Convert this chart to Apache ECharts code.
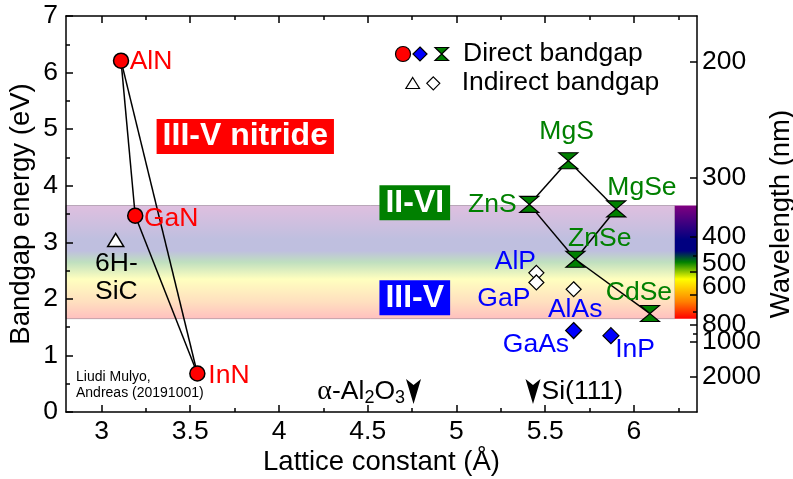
<!DOCTYPE html>
<html><head><meta charset="utf-8">
<script src="https://cdn.jsdelivr.net/npm/echarts@6/dist/echarts.min.js"></script>
<style>html,body{margin:0;padding:0;background:#fff}#c{width:793px;height:479px}</style>
</head><body><div id="c"></div>
<script>
// ---------------- data ----------------
const nitrideNames = ['AlN', 'GaN', 'InN'];
const nitrideLattice = [3.11, 3.19, 3.54];
const nitrideGap = [6.21, 3.47, 0.68];

const iiviNames = ['MgS', 'ZnS', 'MgSe', 'ZnSe', 'CdSe'];
const iiviLattice = [5.63, 5.41, 5.90, 5.67, 6.09];
const iiviGap = [4.44, 3.67, 3.59, 2.70, 1.74];

const iiivDirectNames = ['GaAs', 'InP'];
const iiivDirectLattice = [5.66, 5.87];
const iiivDirectGap = [1.44, 1.35];

const iiivIndirectNames = ['AlP', 'GaP', 'AlAs'];
const iiivIndirectLattice = [5.45, 5.45, 5.66];
const iiivIndirectGap = [2.46, 2.29, 2.17];

const sicNames = ['6H-\nSiC'];
const sicLattice = [3.08];
const sicGap = [3.04];

const tieLines = [['AlN','GaN'],['GaN','InN'],['InN','AlN'],
                  ['ZnS','MgS'],['MgS','MgSe'],['MgSe','ZnSe'],['ZnSe','ZnS'],['ZnSe','CdSe']];

const substrateNames = ['alumina', 'Si(111)'];
const substrateLattice = [4.758, 5.431];

const groupNames = ['III-V nitride', 'II-VI', 'III-V'];
const groupLattice = [3.81, 4.765, 4.765];
const groupGap = [4.87, 3.70, 2.02];

const xTicks = [3, 3.5, 4, 4.5, 5, 5.5, 6];
const xMinorTicks = [3.25, 3.75, 4.25, 4.75, 5.25, 5.75, 6.25];
const wavelengthTicks = [200, 300, 400, 500, 600, 800, 1000, 2000];
const wavelengthMinorTicks = [450, 700, 900];
const visibleBandEnergy = [1.65, 3.65];
const bandSegments = [[2.8, 6.23, 'pastel'], [6.23, 6.355, 'full']];

// ---------------- styles ----------------
const FONT = '"Liberation Sans", Arial, sans-serif';
const X_MIN = 2.8, X_MAX = 6.355, Y_MIN = 0, Y_MAX = 7;
const HC = 1240;
const labelOffset = {
  AlN:[30,1], GaN:[36,2.6], InN:[31.6,1.7], '6H-\nSiC':[0.7,37.5],
  MgS:[-1.7,-29], ZnS:[-37,0], MgSe:[25.7,-21.7], ZnSe:[24.3,-20.7], CdSe:[-11,-20.6],
  AlP:[-21,-11], GaP:[-32.5,16.6], AlAs:[1.5,20], GaAs:[-37.7,14.3], InP:[24.2,13.6]
};
const groupColors = {'III-V nitride':'#ff0000', 'II-VI':'#008000', 'III-V':'#0000ff'};
const wavelengthLabelUp = [500, 600];
const ARROW_TIP_E = 0.14;

const spectrumStops = (a) => [
  {offset:0, color:`rgba(128,0,128,${a})`},
  {offset:0.3, color:`rgba(0,0,128,${a})`},
  {offset:0.4, color:`rgba(0,0,128,${a})`},
  {offset:0.5, color:`rgba(0,128,0,${a})`},
  {offset:0.65, color:`rgba(255,255,0,${a})`},
  {offset:0.85, color:`rgba(255,128,0,${a})`},
  {offset:1, color:`rgba(255,0,0,${a})`}
];

function pts(names, xs, ys) { return names.map((n, i) => ({name:n, value:[xs[i], ys[i]]})); }
function labeled(arr, color) {
  return arr.map(d => ({...d, label:{show:true, formatter:'{b}', position:'inside', offset:labelOffset[d.name],
    color, fontSize:26.5, fontFamily:FONT, lineHeight:28, align:'center', verticalAlign:'middle'}}));
}

const nitrides = pts(nitrideNames, nitrideLattice, nitrideGap);
const iivi = pts(iiviNames, iiviLattice, iiviGap);
const iiivD = pts(iiivDirectNames, iiivDirectLattice, iiivDirectGap);
const iiivI = pts(iiivIndirectNames, iiivIndirectLattice, iiivIndirectGap);
const sic = pts(sicNames, sicLattice, sicGap);
const pos = {};
[...nitrides, ...iivi].forEach(d => pos[d.name] = d.value);

const HOURGLASS = 'path://M0,0L20,0L10,8L20,16L0,16L10,8Z';
const ARROW = 'path://M0,0L7.5,6L15,0L7.5,25Z';

const axisLineStyle = {color:'#000', width:1.5};
const tickStyle = {color:'#000', width:1.5};

function xAx(position, ticks, len, main) {
  return {type:'value', min:X_MIN, max:X_MAX, position, z:10,
    axisLine:{show:main, onZero:false, lineStyle:axisLineStyle},
    axisTick:{show:true, inside:true, length:len, customValues:ticks, lineStyle:tickStyle},
    axisLabel:{show:main && position==='bottom', customValues:ticks, color:'#000', fontSize:26.5, fontFamily:FONT, margin:6},
    splitLine:{show:false},
    name: (main && position==='bottom') ? 'Lattice constant (Å)' : '',
    nameLocation:'middle', nameGap:36, nameMoveOverlap:false,
    nameTextStyle:{color:'#000', fontSize:27.5, fontFamily:FONT}};
}

const option = {
  animation:false,
  backgroundColor:'#fff',
  grid:{left:66, right:96, top:16, bottom:67, containLabel:false, outerBoundsMode:'none'},
  xAxis:[
    xAx('bottom', xTicks, 7, true),
    xAx('bottom', xMinorTicks, 4, false),
    xAx('top', xTicks, 7, true),
    xAx('top', xMinorTicks, 4, false)
  ],
  yAxis:[
    {type:'value', min:Y_MIN, max:Y_MAX, interval:1, position:'left', z:10,
     axisLine:{show:true, onZero:false, lineStyle:axisLineStyle},
     axisTick:{show:true, inside:true, length:7, lineStyle:tickStyle},
     minorTick:{show:true, splitNumber:2, length:4, lineStyle:tickStyle},
     axisLabel:{color:'#000', fontSize:26.5, fontFamily:FONT, margin:8},
     splitLine:{show:false},
     name:'Bandgap energy (eV)', nameLocation:'middle', nameGap:31, nameRotate:90, nameMoveOverlap:false,
     nameTextStyle:{color:'#000', fontSize:27.5, fontFamily:FONT}},
    {type:'value', min:Y_MIN, max:Y_MAX, position:'right', z:10,
     axisLine:{show:true, onZero:false, lineStyle:axisLineStyle},
     axisTick:{show:true, inside:true, length:7, customValues:wavelengthTicks.map(l => HC / l), lineStyle:tickStyle},
     axisLabel:{customValues:wavelengthTicks.map(l => HC / l), color:'#000', fontSize:26.5, fontFamily:FONT, margin:5,
       formatter: v => { const nm = Math.round(HC / v); return wavelengthLabelUp.includes(nm) ? '{up|' + nm + '}' : '{n|' + nm + '}'; },
       rich:{n:{fontSize:26.5, fontFamily:FONT, color:'#000'}, up:{fontSize:26.5, fontFamily:FONT, color:'#000', padding:[0,0,16,0]}}},
     splitLine:{show:false},
     name:'Wavelength (nm)', nameLocation:'middle', nameGap:70, nameRotate:90, nameMoveOverlap:false,
     nameTextStyle:{color:'#000', fontSize:27.5, fontFamily:FONT}},
    {type:'value', min:Y_MIN, max:Y_MAX, position:'right', z:10,
     axisLine:{show:false},
     axisTick:{show:true, inside:true, length:4, customValues:wavelengthMinorTicks.map(l => HC / l), lineStyle:tickStyle},
     axisLabel:{show:false}, splitLine:{show:false}}
  ],
  graphic:[
    {type:'text', left:76, top:369, z:20, style:{text:'Liudi Mulyo,\nAndreas (20191001)', font:'14px ' + FONT, fill:'#000', lineHeight:16}},
    // legend
    {type:'circle', z:20, shape:{cx:403, cy:54, r:7.5}, style:{fill:'#ff0000', stroke:'#000', lineWidth:1.2}},
    {type:'polygon', z:20, shape:{points:[[420,47],[427,54],[420,61],[413,54]]}, style:{fill:'#0000ff', stroke:'#000', lineWidth:1.2}},
    {type:'polygon', z:20, shape:{points:[[435,47.5],[448.5,47.5],[441.7,54],[448.5,60.5],[435,60.5],[441.7,54]]}, style:{fill:'#008000', stroke:'#000', lineWidth:1.2}},
    {type:'text', z:20, left:463, top:40, style:{text:'Direct bandgap', font:'26.5px ' + FONT, fill:'#000'}},
    {type:'polygon', z:20, shape:{points:[[412.7,77.5],[419.5,88.5],[405.9,88.5]]}, style:{fill:'#fff', stroke:'#000', lineWidth:1.2}},
    {type:'polygon', z:20, shape:{points:[[433.3,76.8],[439.8,83.3],[433.3,89.8],[426.8,83.3]]}, style:{fill:'#fff', stroke:'#000', lineWidth:1.2}},
    {type:'text', z:20, left:461.7, top:69.5, style:{text:'Indirect bandgap', font:'26.5px ' + FONT, fill:'#000'}}
  ],
  series:[
    {type:'custom', z:1, silent:true, xAxisIndex:0, yAxisIndex:0,
     data: bandSegments.map(s => [s[0], s[1], visibleBandEnergy[1], visibleBandEnergy[0], s[2]]),
     encode:{x:[0,1], y:[2,3]},
     renderItem:(params, api) => {
       const p0 = api.coord([api.value(0), api.value(2)]);
       const p1 = api.coord([api.value(1), api.value(3)]);
       const pastel = bandSegments[params.dataIndex][2] === 'pastel';
       return {type:'rect', shape:{x:p0[0], y:p0[1], width:p1[0]-p0[0], height:p1[1]-p0[1]},
         style:{fill:new echarts.graphic.LinearGradient(0,0,0,1, spectrumStops(pastel ? 0.25 : 1)),
                stroke: pastel ? 'rgba(120,100,120,0.45)' : null, lineWidth: pastel ? 1 : 0}};
     }},
    {type:'lines', coordinateSystem:'cartesian2d', z:3, silent:true,
     data: tieLines.map(([a, b]) => ({coords:[pos[a], pos[b]]})),
     lineStyle:{color:'#000', width:1.5, opacity:1}},
    {type:'scatter', z:4, symbol:'circle', symbolSize:15,
     itemStyle:{color:'#ff0000', borderColor:'#000', borderWidth:1.5, opacity:1},
     data: labeled(nitrides, '#ff0000')},
    {type:'scatter', z:4, symbol:HOURGLASS, symbolSize:[19,16],
     itemStyle:{color:'#008000', borderColor:'#000', borderWidth:1.2, opacity:1},
     data: labeled(iivi, '#008000')},
    {type:'scatter', z:4, symbol:'diamond', symbolSize:16,
     itemStyle:{color:'#0000ff', borderColor:'#000', borderWidth:1.2, opacity:1},
     data: labeled(iiivD, '#0000ff')},
    {type:'scatter', z:4, symbol:'diamond', symbolSize:15,
     itemStyle:{color:'#fff', borderColor:'#000', borderWidth:1.2, opacity:1},
     data: labeled(iiivI, '#0000ff')},
    {type:'scatter', z:4, symbol:'triangle', symbolSize:[16,13],
     itemStyle:{color:'#fff', borderColor:'#000', borderWidth:1.5, opacity:1},
     data: labeled(sic, '#000')},
    {type:'scatter', z:5, symbol:ARROW, symbolSize:[15,25], symbolOffset:[0,'-50%'],
     itemStyle:{color:'#000', opacity:1},
     data: substrateNames.map((n, i) => ({name:n, value:[substrateLattice[i], ARROW_TIP_E],
       label:{show:true, position: i === 0 ? 'left' : 'right', distance:1, color:'#000', fontSize:26.5, fontFamily:FONT,
         formatter: i === 0 ? '{a|α}-Al{s|2}O{s|3}' : 'Si(111)',
         rich:{a:{fontSize:28, fontFamily:'"Liberation Serif", serif', color:'#000', lineHeight:28},
               s:{fontSize:18, fontFamily:FONT, color:'#000', lineHeight:18, padding:[12,0,0,0]}}}}))},
    {type:'scatter', z:6, symbol:'rect', symbolSize:1,
     itemStyle:{color:'rgba(0,0,0,0)', opacity:1},
     data: groupNames.map((n, i) => ({name:n, value:[groupLattice[i], groupGap[i]],
       label:{show:true, position:'inside', formatter:'{b}', color:'#fff', fontWeight:'bold', fontSize:32, fontFamily:FONT,
         padding:[2,6,1,6], backgroundColor:groupColors[n], align:'center', verticalAlign:'middle'}}))}
  ]
};
const chart = echarts.init(document.getElementById('c'));
chart.setOption(option);
</script>
</body></html>
